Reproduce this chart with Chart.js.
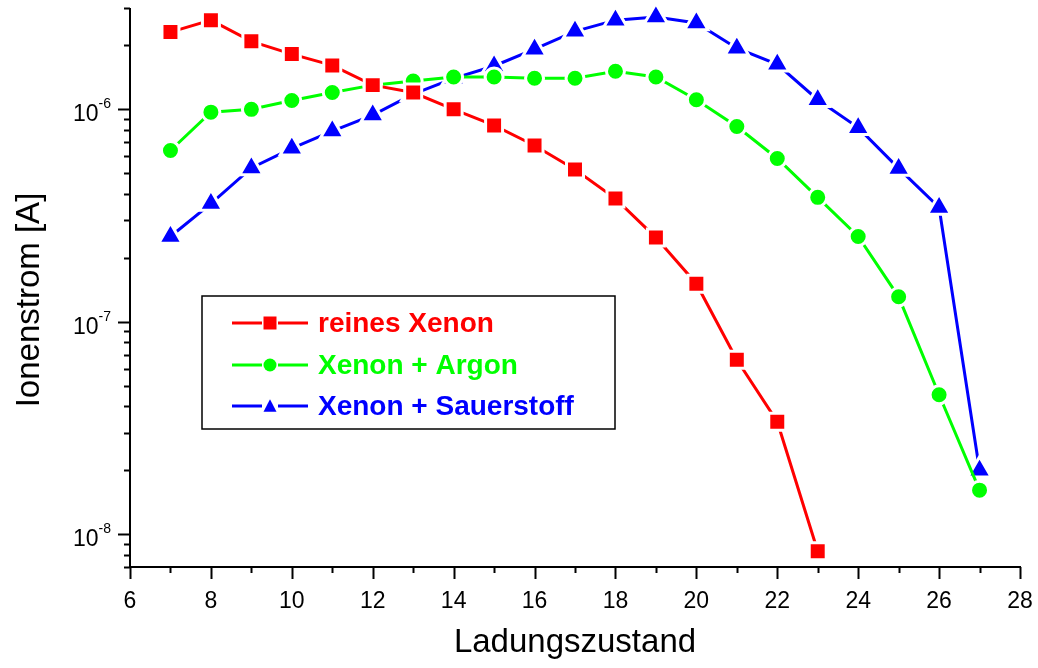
<!DOCTYPE html>
<html>
<head>
<meta charset="utf-8">
<script src="https://cdn.jsdelivr.net/npm/chart.js@4.4.1/dist/chart.umd.min.js"></script>
<style>
  html, body { margin: 0; padding: 0; background: #ffffff; }
  #wrap { width: 1038px; height: 668px; }
</style>
</head>
<body>
<div id="wrap"><canvas id="chart" width="1038" height="668"></canvas></div>
<script>
// Charge states (x) and ion currents in ampere (y)
const charges = [7, 8, 9, 10, 11, 12, 13, 14, 15, 16, 17, 18, 19, 20, 21, 22, 23, 24, 25, 26, 27];
const reinesXenon = [2.31e-6, 2.63e-6, 2.09e-6, 1.82e-6, 1.61e-6, 1.30e-6, 1.20e-6, 1.00e-6, 8.4e-7,
  6.76e-7, 5.21e-7, 3.80e-7, 2.49e-7, 1.51e-7, 6.62e-8, 3.38e-8, 8.3e-9];
const xenonArgon = [6.4e-7, 9.7e-7, 1.00e-6, 1.10e-6, 1.20e-6, 1.30e-6, 1.36e-6, 1.42e-6, 1.42e-6,
  1.40e-6, 1.40e-6, 1.51e-6, 1.42e-6, 1.11e-6, 8.3e-7, 5.87e-7, 3.85e-7, 2.52e-7, 1.31e-7, 4.53e-8, 1.61e-8];
const xenonSauerstoff = [2.52e-7, 3.6e-7, 5.3e-7, 6.55e-7, 7.9e-7, 9.4e-7, 1.18e-6, 1.40e-6, 1.60e-6,
  1.92e-6, 2.33e-6, 2.63e-6, 2.72e-6, 2.55e-6, 1.94e-6, 1.63e-6, 1.11e-6, 8.2e-7, 5.27e-7, 3.45e-7, 2.0e-8];

const seriesNames = ['reines Xenon', 'Xenon + Argon', 'Xenon + Sauerstoff'];
const xTickLabels = ['6', '8', '10', '12', '14', '16', '18', '20', '22', '24', '26', '28'];
const yDecadeExponents = [-8, -7, -6];
const xTitle = 'Ladungszustand';
const yTitle = 'Ionenstrom [A]';

const FONT = '"Liberation Sans", Arial, Helvetica, sans-serif';

function pairs(values) {
  return values.map((v, i) => ({ x: charges[i], y: v }));
}

// Axes, ticks, labels and titles drawn from the chart's own scales
const axesPlugin = {
  id: 'originAxes',
  beforeDatasetsDraw(chart) {
    const { ctx, chartArea: a, scales: { x, y } } = chart;
    ctx.save();
    ctx.strokeStyle = '#000';
    ctx.lineWidth = 2;
    ctx.lineCap = 'butt';
    // axis lines
    ctx.beginPath();
    ctx.moveTo(a.left, a.top);
    ctx.lineTo(a.left, a.bottom + 1);
    ctx.moveTo(a.left - 1, a.bottom);
    ctx.lineTo(a.right + 1, a.bottom);
    ctx.stroke();

    // x ticks: major every 2, minor in between
    for (let v = x.min; v <= x.max + 1e-9; v += 1) {
      const px = Math.round(x.getPixelForValue(v)) + 0.5;
      const major = (v % 2 === 0);
      ctx.beginPath();
      ctx.moveTo(px, a.bottom);
      ctx.lineTo(px, a.bottom + (major ? 12 : 6));
      ctx.stroke();
    }
    // y ticks: decades major, 2..9 minor
    for (let d = -9; d <= -5; d++) {
      for (let m = 1; m <= 9; m++) {
        const v = m * Math.pow(10, d);
        if (v < y.min * 0.999 || v > y.max * 1.001) continue;
        const py = Math.round(y.getPixelForValue(v)) + 0.5;
        ctx.beginPath();
        ctx.moveTo(a.left, py);
        ctx.lineTo(a.left - (m === 1 ? 12 : 6), py);
        ctx.stroke();
      }
    }

    ctx.fillStyle = '#000';
    // x tick labels
    ctx.font = '23px ' + FONT;
    ctx.textAlign = 'center';
    ctx.textBaseline = 'alphabetic';
    xTickLabels.forEach(t => {
      const px = x.getPixelForValue(Number(t));
      ctx.fillText(t, px, a.bottom + 41);
    });

    // y tick labels: 10 with superscript exponent
    yDecadeExponents.forEach(e => {
      const py = y.getPixelForValue(Math.pow(10, e));
      const sup = String(e);
      ctx.font = '14px ' + FONT;
      ctx.textAlign = 'right';
      const supRight = a.left - 19;
      ctx.fillText(sup, supRight, py - 1);
      const w = ctx.measureText(sup).width;
      ctx.font = '23px ' + FONT;
      ctx.fillText('10', supRight - w, py + 12);
    });

    // axis titles
    ctx.font = '33px ' + FONT;
    ctx.textAlign = 'center';
    ctx.fillText(xTitle, (a.left + a.right) / 2, a.bottom + 85);
    ctx.save();
    ctx.translate(39, 300);
    ctx.rotate(-Math.PI / 2);
    ctx.fillText(yTitle, 0, 0);
    ctx.restore();
    ctx.restore();
  }
};

function drawMarker(ctx, style, cx, cy, color, size) {
  ctx.fillStyle = color;
  ctx.beginPath();
  if (style === 'rect') {
    ctx.rect(cx - size / 2, cy - size / 2, size, size);
  } else if (style === 'circle') {
    ctx.arc(cx, cy, size / 2, 0, Math.PI * 2);
  } else {
    const h = size * 0.87;
    ctx.moveTo(cx, cy - h / 2 - 1);
    ctx.lineTo(cx + size / 2, cy + h / 2);
    ctx.lineTo(cx - size / 2, cy + h / 2);
    ctx.closePath();
  }
  ctx.fill();
}

// Framed legend inside the plot
const legendPlugin = {
  id: 'boxLegend',
  afterDatasetsDraw(chart) {
    const { ctx } = chart;
    const box = { left: 202, top: 296, width: 413, height: 133 };
    ctx.save();
    ctx.fillStyle = '#fff';
    ctx.fillRect(box.left, box.top, box.width, box.height);
    ctx.strokeStyle = '#000';
    ctx.lineWidth = 1.5;
    ctx.strokeRect(box.left, box.top, box.width, box.height);
    const rows = [323, 365, 406];
    chart.data.datasets.forEach((ds, i) => {
      const cy = rows[i];
      ctx.strokeStyle = ds.borderColor;
      ctx.lineWidth = 3;
      ctx.beginPath();
      ctx.moveTo(232, cy);
      ctx.lineTo(262, cy);
      ctx.moveTo(278, cy);
      ctx.lineTo(308, cy);
      ctx.stroke();
      drawMarker(ctx, ds.pointStyle, 270, cy, ds.borderColor, 13);
      ctx.fillStyle = ds.borderColor;
      ctx.font = 'bold 28px ' + FONT;
      ctx.textAlign = 'left';
      ctx.textBaseline = 'middle';
      ctx.fillText(ds.label, 318, cy + 1);
    });
    ctx.restore();
  }
};

const common = {
  borderWidth: 3,
  pointBorderColor: '#ffffff',
  pointBorderWidth: 3,
  pointHoverBorderWidth: 3,
  tension: 0,
  fill: false,
  clip: false
};

new Chart(document.getElementById('chart'), {
  type: 'line',
  data: {
    datasets: [
      Object.assign({}, common, {
        label: seriesNames[0],
        data: pairs(reinesXenon),
        borderColor: '#ff0000',
        backgroundColor: '#ff0000',
        pointBackgroundColor: '#ff0000',
        pointStyle: 'rect',
        pointRadius: 12,
        pointHoverRadius: 12
      }),
      Object.assign({}, common, {
        label: seriesNames[1],
        data: pairs(xenonArgon),
        borderColor: '#00ff00',
        backgroundColor: '#00ff00',
        pointBackgroundColor: '#00ff00',
        pointStyle: 'circle',
        pointRadius: 9,
        pointHoverRadius: 9
      }),
      Object.assign({}, common, {
        label: seriesNames[2],
        data: pairs(xenonSauerstoff),
        borderColor: '#0000ff',
        backgroundColor: '#0000ff',
        pointBackgroundColor: '#0000ff',
        pointStyle: 'triangle',
        pointRadius: 13.5,
        pointHoverRadius: 13.5
      })
    ]
  },
  options: {
    responsive: false,
    animation: false,
    events: [],
    layout: { autoPadding: false, padding: { left: 130, right: 18, top: 8, bottom: 101 } },
    scales: {
      x: { type: 'linear', min: 6, max: 28, display: false },
      y: { type: 'logarithmic', min: 7e-9, max: 3e-6, display: false }
    },
    plugins: {
      legend: { display: false },
      tooltip: { enabled: false },
      title: { display: false }
    }
  },
  plugins: [axesPlugin, legendPlugin]
});
</script>
</body>
</html>
